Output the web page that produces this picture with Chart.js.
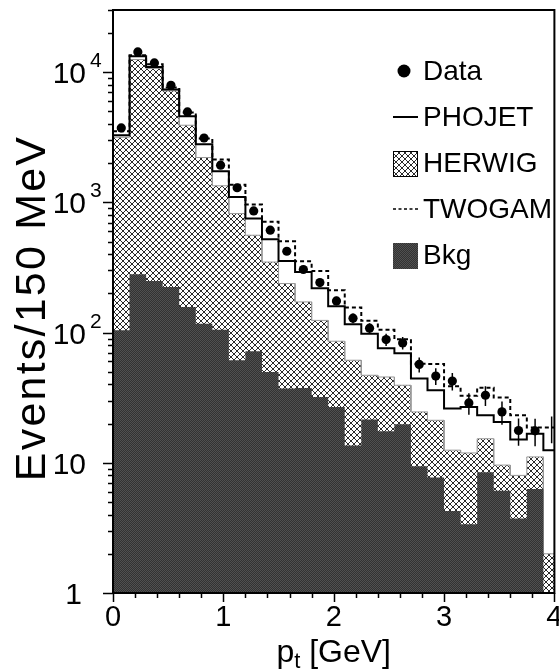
<!DOCTYPE html>
<html>
<head>
<meta charset="utf-8">
<script src="https://cdn.jsdelivr.net/npm/chart.js@4.4.1/dist/chart.umd.min.js"></script>
<style>
  html, body { margin: 0; padding: 0; background: #fff; }
  canvas { display: block; }
</style>
</head>
<body>
<canvas id="c" width="559" height="669"></canvas>
<script>
// p_t bins: lower edges in GeV, 150 MeV wide
const binWidth = 0.15;
const ptBins = [0.00, 0.15, 0.30, 0.45, 0.60, 0.75, 0.90, 1.05, 1.20, 1.35,
                1.50, 1.65, 1.80, 1.95, 2.10, 2.25, 2.40, 2.55, 2.70, 2.85,
                3.00, 3.15, 3.30, 3.45, 3.60, 3.75, 3.90];

// measured events per bin
const dataCounts = [3730, 14300, 11770, 7930, 4950, 3120, 1930, 1295, 859, 611,
                    421, 305, 242, 175, 129, 108, 88.4, 83.2, 56.9, 46.3,
                    42.4, 28.8, 33.0, 24.6, 17.7, 17.6, 18.4];
const dataErrors = [61, 120, 108, 89, 70, 56, 44, 36, 29, 25,
                    21, 17, 16, 13, 11, 10, 9.4, 9.1, 7.5, 6.8,
                    6.5, 5.4, 5.7, 5.0, 4.2, 4.2, 4.3];

// Monte Carlo expectations
const phojet = [3280, 13250, 10960, 7350, 4590, 2790, 1730, 1100, 751, 521,
                355, 292, 219, 159, 116, 98, 75.8, 69.3, 44.3, 36.1,
                26.1, 26.8, 23.2, 20.6, 15.1, 16.7, 12.5];
const herwig = [3160, 12500, 10660, 7170, 3910, 2210, 1340, 820, 559, 348,
                238, 172, 124, 85.8, 61.3, 47.0, 45.6, 39.4, 24.6, 21.2,
                12.5, 11.9, 15.3, 9.6, 8.0, 11.1, 2.0];
const twogam = [3520, 13480, 11500, 7610, 4890, 3090, 2130, 1365, 962, 710,
                502, 353, 297, 211, 156, 123, 105, 88.8, 57.6, 57.3,
                38.7, 32.7, 37.7, 31.7, 23.2, 18.7, 18.7];
const bkg = [104, 280, 249, 224, 157, 117, 105, 61.3, 71.8, 49.8,
             37.2, 37.5, 32.0, 26.8, 13.6, 21.5, 17.5, 19.8, 9.4, 7.7,
             4.26, 3.37, 8.45, 6.1, 3.73, 6.29, 0];

// axis ticks
const xTickLabels = ['0', '1', '2', '3', '4'];
const yDecadeLabels = [['1', ''], ['10', ''], ['10', '2'], ['10', '3'], ['10', '4']];

const X_MIN = 0, X_MAX = 4, Y_MIN = 1, Y_MAX = 30000;
const FONT = "'Liberation Sans', Arial, Helvetica, sans-serif";

const canvas = document.getElementById('c');
const ctx = canvas.getContext('2d');

// histogram outline: flat top across each bin
function histPoints(values) {
  const pts = [];
  values.forEach((v, i) => {
    const y = v > 0 ? v : Y_MIN;
    pts.push({ x: ptBins[i], y });
    pts.push({ x: ptBins[i] + binWidth, y });
  });
  return pts;
}

// cross-hatch tile: two one-pixel diagonals
function hatchPattern() {
  const n = 6;
  const c = document.createElement('canvas');
  c.width = n; c.height = n;
  const g = c.getContext('2d');
  g.fillStyle = '#ffffff';
  g.fillRect(0, 0, n, n);
  g.fillStyle = '#2a2a2a';
  for (let i = 0; i < n; i++) {
    g.fillRect(i, i, 1, 1);
    g.fillRect(i, n - 1 - i, 1, 1);
  }
  return ctx.createPattern(c, 'repeat');
}

function darkPattern() {
  const c = document.createElement('canvas');
  c.width = 2; c.height = 2;
  const g = c.getContext('2d');
  g.fillStyle = '#323232'; g.fillRect(0, 0, 2, 2);
  g.fillStyle = '#505050'; g.fillRect(0, 0, 1, 1); g.fillRect(1, 1, 1, 1);
  return ctx.createPattern(c, 'repeat');
}

const hatch = hatchPattern();
const dark = darkPattern();

// frame, ticks and axis labels
const axesPlugin = {
  id: 'axesPlugin',
  afterDraw(chart) {
    const { ctx, chartArea: a, scales: { x, y } } = chart;
    ctx.save();
    ctx.strokeStyle = '#000';
    ctx.lineWidth = 2;
    ctx.strokeRect(a.left, a.top, a.right - a.left, a.bottom - a.top);

    // x ticks every 0.2 GeV
    ctx.lineWidth = 1.5;
    ctx.beginPath();
    for (let i = 0; i <= 20; i++) {
      const v = i * 0.2;
      const px = Math.round(x.getPixelForValue(v)) + 0.5;
      const len = (i % 5 === 0) ? 9 : 5;
      ctx.moveTo(px, a.bottom);
      ctx.lineTo(px, a.bottom + len);
    }
    // y ticks: decades and 2..9 multiples
    for (let e = 0; e <= 4; e++) {
      for (let m = 1; m <= 9; m++) {
        const v = m * Math.pow(10, e);
        if (v > Y_MAX) break;
        const py = Math.round(y.getPixelForValue(v)) + 0.5;
        const len = (m === 1) ? 10 : 5;
        ctx.moveTo(a.left, py);
        ctx.lineTo(a.left - len, py);
      }
    }
    ctx.stroke();

    ctx.fillStyle = '#000';
    // x tick labels
    ctx.font = '29px ' + FONT;
    ctx.textAlign = 'center';
    ctx.textBaseline = 'alphabetic';
    xTickLabels.forEach((t, i) => {
      ctx.fillText(t, x.getPixelForValue(i), 626);
    });

    // y tick labels with exponents
    yDecadeLabels.forEach((lab, e) => {
      const py = y.getPixelForValue(Math.pow(10, e));
      ctx.font = '30px ' + FONT;
      ctx.textAlign = 'right';
      if (lab[1]) {
        ctx.fillText(lab[0], 86, py + 11);
        ctx.font = '21px ' + FONT;
        ctx.textAlign = 'left';
        ctx.fillText(lab[1], 90, py - 5);
      } else {
        ctx.fillText(lab[0], lab[0] === '1' ? 82 : 86, py + 11);
      }
    });

    // axis titles
    const big = '32px ' + FONT, small = '22px ' + FONT;
    ctx.textAlign = 'left';
    const base = 662;
    ctx.font = big;
    const pW = ctx.measureText('p').width;
    const rest = ' [GeV]';
    const rW = ctx.measureText(rest).width;
    ctx.font = small;
    const tW = ctx.measureText('t').width;
    let sx = (a.left + a.right) / 2 - (pW + tW + rW) / 2;
    ctx.font = big;
    ctx.fillText('p', sx, base);
    ctx.font = small;
    ctx.fillText('t', sx + pW, base + 6);
    ctx.font = big;
    ctx.fillText(rest, sx + pW + tW, base);

    ctx.save();
    ctx.translate(33, 309);
    ctx.rotate(-Math.PI / 2);
    ctx.textAlign = 'center';
    ctx.textBaseline = 'middle';
    ctx.font = '43px ' + FONT;
    if ('letterSpacing' in ctx) ctx.letterSpacing = '2.2px';
    ctx.fillText('Events/150 MeV', 1, 0);
    if ('letterSpacing' in ctx) ctx.letterSpacing = '0px';
    ctx.restore();

    // legend
    const lx = 393, lw = 25, tx = 423;
    ctx.font = '28px ' + FONT;
    ctx.textAlign = 'left';
    ctx.textBaseline = 'middle';
    const rows = [71, 117, 163, 209, 255];
    // Data
    ctx.beginPath();
    ctx.arc(lx + 11, rows[0], 6.5, 0, Math.PI * 2);
    ctx.fill();
    ctx.fillText('Data', tx, rows[0] + 1);
    // PHOJET
    ctx.lineWidth = 2;
    ctx.beginPath();
    ctx.moveTo(lx, rows[1]); ctx.lineTo(lx + lw, rows[1]);
    ctx.stroke();
    ctx.fillText('PHOJET', tx, rows[1] + 1);
    // HERWIG
    ctx.fillStyle = hatch;
    ctx.fillRect(lx, rows[2] - 12, lw, 26);
    ctx.lineWidth = 1;
    ctx.strokeRect(lx + 0.5, rows[2] - 11.5, lw - 1, 25);
    ctx.fillStyle = '#000';
    ctx.fillText('HERWIG', tx, rows[2] + 1);
    // TWOGAM
    ctx.lineWidth = 1.5;
    ctx.setLineDash([3, 2.5]);
    ctx.beginPath();
    ctx.moveTo(lx, rows[3]); ctx.lineTo(lx + lw, rows[3]);
    ctx.stroke();
    ctx.setLineDash([]);
    ctx.fillText('TWOGAM', tx, rows[3] + 1);
    // Bkg
    ctx.fillStyle = dark;
    ctx.fillRect(lx, rows[4] - 12, lw, 26);
    ctx.fillStyle = '#000';
    ctx.fillText('Bkg', tx, rows[4] + 1);
    ctx.restore();
  }
};

// vertical error bars on the data points
const errorBarPlugin = {
  id: 'errorBarPlugin',
  beforeDatasetDraw(chart, args) {
    if (args.index !== 0) return;
    const { ctx, chartArea: a, scales: { x, y } } = chart;
    ctx.save();
    ctx.beginPath();
    ctx.rect(a.left, a.top, a.right - a.left, a.bottom - a.top);
    ctx.clip();
    ctx.strokeStyle = '#000';
    ctx.lineWidth = 1.5;
    ctx.beginPath();
    dataCounts.forEach((v, i) => {
      const px = x.getPixelForValue(ptBins[i] + binWidth / 2);
      ctx.moveTo(px, y.getPixelForValue(v - dataErrors[i]));
      ctx.lineTo(px, y.getPixelForValue(v + dataErrors[i]));
    });
    ctx.stroke();
    ctx.restore();
  }
};

new Chart(ctx, {
  type: 'scatter',
  data: {
    datasets: [
      {
        label: 'Data',
        data: dataCounts.map((v, i) => ({ x: ptBins[i] + binWidth / 2, y: v })),
        showLine: false,
        pointStyle: 'circle',
        pointRadius: dataCounts.map((v, i) => (i === dataCounts.length - 1 ? 0 : 4.6)),
        pointBackgroundColor: '#000',
        pointBorderColor: '#000',
        pointBorderWidth: 0
      },
      {
        label: 'TWOGAM',
        data: histPoints(twogam),
        showLine: true,
        borderColor: '#000',
        borderWidth: 2,
        borderDash: [4, 3],
        pointRadius: 0,
        fill: false
      },
      {
        label: 'PHOJET',
        data: histPoints(phojet),
        showLine: true,
        borderColor: '#000',
        borderWidth: 2,
        pointRadius: 0,
        fill: false
      },
      {
        label: 'Bkg',
        data: histPoints(bkg),
        showLine: true,
        borderColor: '#3a3a3a',
        borderWidth: 0,
        pointRadius: 0,
        backgroundColor: dark,
        fill: 'start'
      },
      {
        label: 'HERWIG',
        data: histPoints(herwig),
        showLine: true,
        borderColor: '#999',
        borderWidth: 1,
        pointRadius: 0,
        backgroundColor: hatch,
        fill: 'start'
      }
    ]
  },
  options: {
    responsive: false,
    animation: false,
    devicePixelRatio: 1,
    layout: { padding: { left: 113, right: 3, top: 10, bottom: 76 } },
    plugins: {
      legend: { display: false },
      tooltip: { enabled: false }
    },
    scales: {
      x: { type: 'linear', min: X_MIN, max: X_MAX, display: false },
      y: { type: 'logarithmic', min: Y_MIN, max: Y_MAX, display: false }
    }
  },
  plugins: [errorBarPlugin, axesPlugin]
});
</script>
</body>
</html>
